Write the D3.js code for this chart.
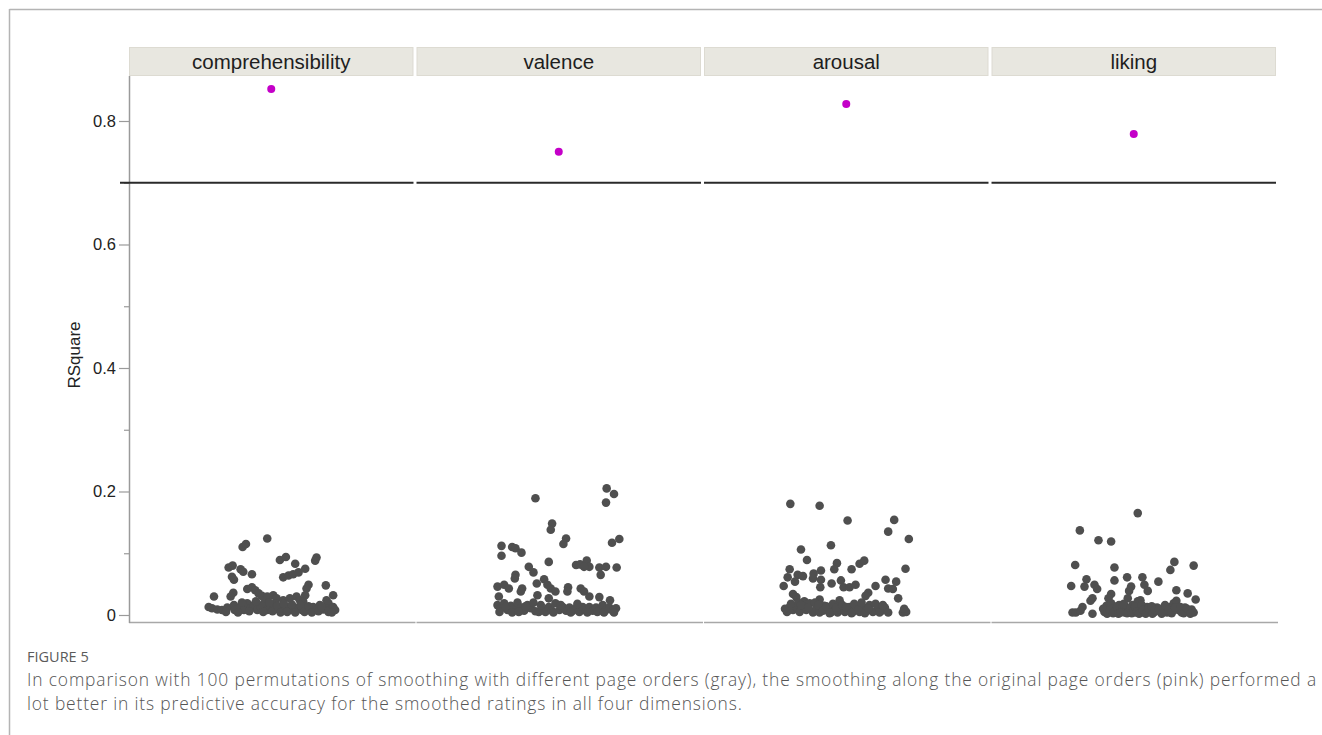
<!DOCTYPE html>
<html>
<head>
<meta charset="utf-8">
<script src="https://cdn.jsdelivr.net/npm/d3@7"></script>
<style>
  html, body { margin: 0; padding: 0; background: #fff; }
  svg { display: block; }
</style>
</head>
<body>
<svg id="chart" width="1322" height="735"></svg>
<script>
// Dimensions rated, one facet each
const categories = ["comprehensibility", "valence", "arousal", "liking"];

// RSquare of smoothing along the original page order
const originalR2 = [0.852, 0.750, 0.8275, 0.779];

// Reference threshold line
const thresholdR2 = 0.7;

// Axis ticks
const majorTicks = [0, 0.2, 0.4, 0.6, 0.8];
const minorTicks = [0.1, 0.3, 0.5, 0.7];
const tickLabels = ["0", "0.2", "0.4", "0.6", "0.8"];

// 100 permutations per dimension: [jitter (-100..100), RSquare]
const permComprehensibility = [
  [-6,0.124],[-43,0.110],[-38,0.115],[-64,0.077],[-58,0.080],[-46,0.074],[-42,0.070],[-59,0.062],[-56,0.057],[-29,0.066],
  [13,0.089],[22,0.094],[36,0.083],[51,0.075],[68,0.093],[66,0.088],[18,0.061],[26,0.064],[33,0.066],[41,0.069],
  [82,0.048],[93,0.032],[56,0.049],[53,0.043],[-86,0.030],[-57,0.036],[-61,0.030],[-36,0.042],[-29,0.045],[-24,0.040],
  [-19,0.035],[-14,0.031],[-6,0.030],[3,0.032],[8,0.027],[18,0.024],[28,0.027],[38,0.030],[43,0.024],[51,0.032],
  [48,0.022],[83,0.024],[86,0.019],
  [-94,0.013],[-89,0.011],[-81,0.009],[-74,0.008],[-66,0.012],[-56,0.016],[-55,0.008],[-46,0.013],[-41,0.008],[-36,0.019],
  [-31,0.011],[-26,0.016],[-21,0.008],[-16,0.013],[-11,0.019],[-6,0.008],[-1,0.013],[6,0.019],[11,0.009],[16,0.013],
  [21,0.008],[28,0.013],[33,0.008],[41,0.012],[46,0.008],[53,0.011],[58,0.008],[63,0.013],[68,0.008],[73,0.016],
  [78,0.009],[83,0.011],[88,0.008],[93,0.013],[96,0.008],
  [-68,0.005],[-50,0.004],[-44,0.020],[-33,0.006],[-23,0.022],[-12,0.005],[-3,0.020],[2,0.006],[9,0.015],[14,0.004],
  [19,0.018],[24,0.005],[31,0.017],[36,0.004],[44,0.016],[50,0.005],[56,0.014],[61,0.004],[71,0.006],[76,0.013],
  [86,0.005],[91,0.004]
];

const permValence = [
  [72,0.205],[83,0.196],[71,0.182],[-35,0.189],[-10,0.148],[-12,0.138],[11,0.124],[7,0.115],[80,0.117],[91,0.123],
  [-86,0.112],[-86,0.096],[-70,0.110],[-65,0.108],[-56,0.101],[-15,0.086],[-45,0.078],[-38,0.069],[-65,0.065],[-66,0.059],
  [26,0.081],[32,0.082],[42,0.088],[46,0.078],[38,0.078],[61,0.077],[71,0.078],[87,0.077],[63,0.065],[-92,0.046],
  [-82,0.049],[-75,0.043],[-55,0.043],[-57,0.038],[-33,0.051],[-22,0.058],[-17,0.049],[-12,0.043],[-5,0.038],[14,0.045],
  [13,0.038],[33,0.043],[38,0.038],[-32,0.032],[-15,0.027],[-90,0.030],[61,0.029],[77,0.024],[46,0.030],
  [-92,0.016],[-87,0.011],[-82,0.019],[-77,0.008],[-72,0.015],[-67,0.009],[-62,0.020],[-57,0.012],[-52,0.007],[-47,0.016],
  [-42,0.011],[-30,0.005],[-25,0.009],[-20,0.005],[-15,0.013],[-10,0.007],[-5,0.019],[1,0.008],[6,0.013],[11,0.007],
  [16,0.012],[21,0.007],[26,0.011],[31,0.005],[36,0.013],[41,0.007],[46,0.013],[51,0.007],[56,0.012],[61,0.008],
  [66,0.016],[71,0.008],[76,0.012],[81,0.007],[86,0.011],
  [-89,0.005],[-80,0.013],[-70,0.004],[-60,0.005],[-50,0.014],[-38,0.020],[-35,0.006],[-27,0.016],[-8,0.004],[3,0.016],
  [18,0.004],[28,0.018],[43,0.004],[58,0.005],[68,0.004],[83,0.004]
];

const permArousal = [
  [-84,0.180],[-40,0.177],[2,0.153],[72,0.154],[63,0.135],[94,0.123],[-68,0.106],[-23,0.113],[-59,0.089],[-14,0.084],
  [-18,0.074],[8,0.074],[20,0.083],[27,0.088],[89,0.075],[-85,0.074],[-88,0.061],[-73,0.065],[-65,0.063],[-77,0.054],
  [-49,0.067],[-38,0.072],[-50,0.059],[-38,0.057],[-39,0.045],[-94,0.047],[-22,0.051],[-8,0.056],[-4,0.045],[5,0.045],
  [14,0.049],[59,0.057],[75,0.054],[63,0.043],[70,0.042],[44,0.047],[33,0.036],[29,0.031],[-80,0.034],[-75,0.029],
  [78,0.027],[-10,0.024],[-40,0.025],[-63,0.022],
  [-89,0.005],[-85,0.013],[-80,0.008],[-75,0.013],[-70,0.005],[-65,0.015],[-60,0.008],[-55,0.019],[-50,0.004],[-45,0.011],
  [-40,0.004],[-33,0.015],[-28,0.008],[-23,0.004],[-18,0.011],[-13,0.004],[-8,0.008],[-2,0.005],[5,0.013],[10,0.005],
  [15,0.012],[20,0.005],[25,0.013],[30,0.007],[35,0.016],[40,0.005],[48,0.013],[53,0.007],[58,0.012],[63,0.004],
  [85,0.004],[90,0.005],
  [-92,0.010],[-83,0.018],[-72,0.020],[-68,0.016],[-57,0.012],[-47,0.020],[-42,0.016],[-35,0.007],[-30,0.014],[-25,0.003],
  [-20,0.018],[-15,0.012],[-6,0.016],[0,0.013],[8,0.003],[12,0.018],[18,0.009],[23,0.020],[28,0.003],[33,0.011],
  [44,0.018],[50,0.004],[55,0.016],[87,0.010]
];

const permLiking = [
  [6,0.165],[-81,0.137],[-53,0.121],[-34,0.119],[-88,0.081],[-29,0.077],[61,0.086],[55,0.073],[90,0.080],[-94,0.047],
  [-71,0.058],[-74,0.046],[-59,0.049],[-55,0.042],[-29,0.056],[-10,0.061],[-4,0.046],[-7,0.039],[13,0.061],[16,0.049],
  [37,0.054],[21,0.039],[64,0.040],[81,0.035],[93,0.025],[-62,0.027],[-65,0.023],[-34,0.034],[-38,0.027],[-9,0.027],
  [10,0.024],[-77,0.013],
  [-92,0.004],[-87,0.004],[-80,0.007],[-62,0.002],[-44,0.005],[-41,0.015],[-34,0.019],[-29,0.011],[-27,0.004],[-22,0.016],
  [-19,0.008],[-14,0.004],[-12,0.013],[-7,0.007],[-2,0.016],[3,0.004],[6,0.022],[9,0.011],[15,0.004],[20,0.013],
  [25,0.007],[30,0.004],[35,0.012],[40,0.005],[45,0.011],[50,0.004],[55,0.013],[60,0.019],[64,0.023],[67,0.008],
  [72,0.004],[77,0.012],[82,0.005],[87,0.009],[90,0.004],
  [-46,0.010],[-40,0.002],[-36,0.008],[-31,0.003],[-25,0.014],[-23,0.002],[-17,0.012],[-15,0.018],[-10,0.003],[-5,0.011],
  [-3,0.003],[0,0.009],[2,0.014],[5,0.006],[8,0.002],[12,0.016],[14,0.008],[18,0.002],[22,0.011],[27,0.014],
  [28,0.002],[32,0.008],[38,0.010],[42,0.002],[47,0.016],[52,0.008],[57,0.003],[62,0.012],[70,0.013],[75,0.003],
  [80,0.010],[85,0.002],[-20,0.004]
];

const permutations = [permComprehensibility, permValence, permArousal, permLiking];

const captionTitle = "FIGURE 5";
const captionLines = [
  "In comparison with 100 permutations of smoothing with different page orders (gray), the smoothing along the original page orders (pink) performed a",
  "lot better in its predictive accuracy for the smoothed ratings in all four dimensions."
];

// ---- layout ----
const svg = d3.select("#chart");
const plotLeft = 129, plotRight = 1276;
const plotTop = 76, plotBottom = 622;
const stripTop = 47;
const chartFont = "'Liberation Sans', Arial, Helvetica, sans-serif";

const x = d3.scaleBand().domain(categories).range([plotLeft, plotRight])
  .paddingInner(0.0105).paddingOuter(0);
const y = d3.scaleLinear().domain([-0.01134, 0.87287]).range([plotBottom, plotTop]);
const jitter = d3.scaleLinear().domain([-100, 100])
  .range([-x.bandwidth() * 0.234, x.bandwidth() * 0.234]);

// outer frame (top and left rules)
svg.append("line").attr("x1", 9.5).attr("x2", 1322).attr("y1", 9.5).attr("y2", 9.5)
  .attr("stroke", "#b4b4b4").attr("stroke-width", 1.5);
svg.append("line").attr("x1", 9.5).attr("x2", 9.5).attr("y1", 9).attr("y2", 735)
  .attr("stroke", "#b4b4b4").attr("stroke-width", 1.5);

// facet strips
const strips = svg.append("g");
strips.selectAll("rect").data(categories).join("rect")
  .attr("x", d => x(d) + 0.5).attr("y", stripTop + 0.5)
  .attr("width", x.bandwidth() - 1).attr("height", plotTop - stripTop - 1)
  .attr("fill", "#e8e7e0").attr("stroke", "#dddbd2").attr("stroke-width", 1);
strips.selectAll("text").data(categories).join("text")
  .attr("x", d => x(d) + x.bandwidth() / 2).attr("y", (stripTop + plotTop) / 2 + 7)
  .attr("text-anchor", "middle").attr("font-family", chartFont).attr("font-size", 20.5)
  .attr("fill", "#1e1e1e").text(d => d);

// bottom frame of each facet
svg.append("g").selectAll("line").data(categories).join("line")
  .attr("x1", d => x(d)).attr("x2", d => x(d) + x.bandwidth() + 2)
  .attr("y1", plotBottom + 0.5).attr("y2", plotBottom + 0.5)
  .attr("stroke", "#a8a8a8").attr("stroke-width", 1.5);

// y axis
const yAxis = d3.axisLeft(y).tickValues(majorTicks)
  .tickFormat((d, i) => tickLabels[i]).tickSize(10).tickPadding(3);
const gy = svg.append("g").attr("transform", `translate(${plotLeft},0)`).call(yAxis);
gy.select(".domain").remove();
gy.selectAll(".tick line").attr("stroke", "#9a9a9a").attr("stroke-width", 1.2);
gy.selectAll(".tick text").attr("font-family", chartFont).attr("font-size", 16.5).attr("fill", "#222");
const gyMinor = svg.append("g").attr("transform", `translate(${plotLeft},0)`)
  .call(d3.axisLeft(y).tickValues(minorTicks).tickSize(5).tickFormat(""));
gyMinor.select(".domain").remove();
gyMinor.selectAll(".tick line").attr("stroke", "#9a9a9a").attr("stroke-width", 1.2);
svg.append("line").attr("x1", plotLeft + 0.5).attr("x2", plotLeft + 0.5)
  .attr("y1", plotTop).attr("y2", plotBottom + 1)
  .attr("stroke", "#9a9a9a").attr("stroke-width", 1.5);

svg.append("text")
  .attr("transform", `translate(80, ${y(0.4) - 13}) rotate(-90)`)
  .attr("text-anchor", "middle").attr("font-family", chartFont).attr("font-size", 17)
  .attr("fill", "#222").text("RSquare");

// threshold line per facet
svg.append("g").selectAll("line").data(categories).join("line")
  .attr("x1", (d, i) => i === 0 ? plotLeft - 9 : x(d))
  .attr("x2", d => x(d) + x.bandwidth())
  .attr("y1", y(thresholdR2)).attr("y2", y(thresholdR2))
  .attr("stroke", "#2a2a2a").attr("stroke-width", 2);

// permutation RSquare values (gray)
const facets = svg.append("g").selectAll("g").data(categories).join("g")
  .attr("transform", d => `translate(${x(d) + x.bandwidth() / 2},0)`);
facets.selectAll("circle.perm").data((d, i) => permutations[i]).join("circle")
  .attr("class", "perm")
  .attr("cx", d => jitter(d[0])).attr("cy", d => y(d[1]))
  .attr("r", 4.3).attr("fill", "#4f4f4f");

// original page order RSquare (pink)
facets.append("circle")
  .attr("cx", 0).attr("cy", (d, i) => y(originalR2[i]))
  .attr("r", 4).attr("fill", "#c400c8");

// caption
const capFont = "'Open Sans', 'Noto Sans', sans-serif";
svg.append("text").attr("x", 27).attr("y", 662)
  .attr("font-family", capFont).attr("font-size", 14.5).attr("fill", "#5a5a5a")
  .text(captionTitle);
const capSize = 17.4;
const capText = svg.append("g").selectAll("text").data(captionLines).join("text")
  .attr("x", 27).attr("y", (d, i) => 686 + i * 24)
  .attr("font-family", capFont).attr("font-size", capSize).attr("font-weight", 300)
  .attr("fill", "#555").text(d => d);
// spread the letters so the first line runs to the right margin
const first = capText.filter((d, i) => i === 0);
const firstWidth = first.node().getComputedTextLength();
const nChars = captionLines[0].length;
capText.attr("letter-spacing", ((1290 - firstWidth) / nChars).toFixed(3) + "px");
</script>
</body>
</html>
